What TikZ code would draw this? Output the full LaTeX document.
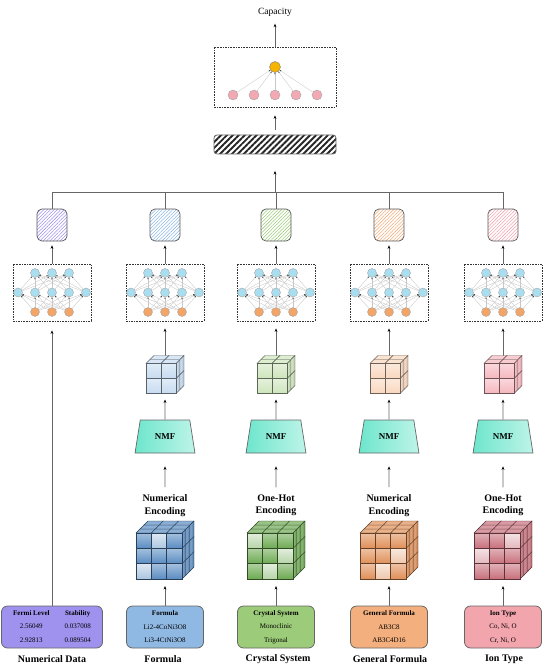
\documentclass[tikz,border=0pt]{standalone}
\usepackage{fontspec}
\setmainfont{Liberation Serif}
\usetikzlibrary{arrows.meta,shapes.geometric,patterns.meta,calc}

\definecolor{colA}{HTML}{9F92EF}
\definecolor{colB}{HTML}{8FB8E3}
\definecolor{colC}{HTML}{9CCB79}
\definecolor{colD}{HTML}{F3AF7E}
\definecolor{colE}{HTML}{F3A5AE}
\definecolor{cubeB}{HTML}{5A8CC2}
\definecolor{cubeC}{HTML}{6DAA52}
\definecolor{cubeD}{HTML}{E08F58}
\definecolor{cubeE}{HTML}{C8707C}
\definecolor{nnBlue}{HTML}{A9DEF0}
\definecolor{nnOrange}{HTML}{F2A566}
\definecolor{nmfTeal}{HTML}{6EE6CC}
\definecolor{capGold}{HTML}{F5B400}
\definecolor{capPink}{HTML}{F2A9B3}

% cube: #1 front bottom-left, #2 cells, #3 front size, #4 depth, #5 colour, #6 light cells
\newcommand{\drawcube}[6]{%
  \begin{scope}[shift={(#1)}]
    \pgfmathsetmacro{\cubecell}{#3/#2}
    \pgfmathsetmacro{\cubedep}{#4/#2}
    \pgfmathtruncatemacro{\cubelast}{#2-1}
    \foreach \i in {0,...,\cubelast}
      \foreach \j in {0,...,\cubelast} {
        \draw[cubeline=#5, top color=#5!55!white, bottom color=#5]
          ({\i*\cubecell},{-\j*\cubecell}) rectangle ++(\cubecell,-\cubecell);
        \draw[cubeline=#5, fill=#5!70!white]
          ({\i*\cubecell+\j*\cubedep},{-#3-\j*\cubedep}) -- ++(\cubecell,0)
          -- ++(\cubedep,-\cubedep) -- ++(-\cubecell,0) -- cycle;
        \draw[cubeline=#5, left color=#5!75!white, right color=#5!85!black]
          ({#3+\i*\cubedep},{-\j*\cubecell-\i*\cubedep}) -- ++(\cubedep,-\cubedep)
          -- ++(0,-\cubecell) -- ++(-\cubedep,\cubedep) -- cycle;
      }
    \if\relax\detokenize{#6}\relax\else
      \foreach \i/\j in {#6}
        \draw[cubeline=#5, top color=#5!20!white, bottom color=#5!50!white]
          ({\i*\cubecell},{-\j*\cubecell}) rectangle ++(\cubecell,-\cubecell);
    \fi
  \end{scope}}

\begin{document}
\begin{tikzpicture}[x=1pt,y=-1pt,
    arr/.style={draw=black!60, line width=0.7pt, -{Stealth[length=3.5pt,width=2.8pt,color=black]}},
    wire/.style={draw=black!60, line width=0.7pt},
    link/.style={draw=black!22, line width=0.35pt, -{Stealth[length=1.6pt,width=1.4pt,color=black!80]}},
    dashbox/.style={draw=black!80, line width=0.8pt, dash pattern=on 1.6pt off 1pt},
    hatch/.style={draw=black!65, line width=0.7pt, rounded corners=5, minimum width=30, minimum height=32,
      pattern={Lines[angle=45,distance=2.4pt,line width=0.55pt]}, pattern color=#1},
    nnb/.style={circle, draw=black!35, fill=nnBlue, minimum size=9, inner sep=0, line width=0.4pt},
    nno/.style={nnb, fill=nnOrange},
    cubebox/.style={inner sep=0, outer sep=0, minimum size=#1},
    nmf/.style={trapezium, trapezium angle=70, trapezium stretches=true, minimum width=60, minimum height=33,
      inner sep=0, draw=black!60, line width=0.7pt, left color=nmfTeal, right color=nmfTeal!45!white,
      font=\fontsize{9}{10}\selectfont\bfseries},
    enc/.style={align=center, font=\fontsize{10}{12.5}\selectfont\bfseries},
    inbox/.style={draw=black!60, line width=0.8pt, rounded corners=6, fill=#1, minimum width=77, minimum height=42,
      inner sep=0, align=center, font=\fontsize{7}{8.5}\selectfont},
    title/.style={font=\fontsize{10}{12}\selectfont\bfseries},
    cubeline/.style={draw=#1!45!black, line width=0.4pt}
  ]
  \useasboundingbox (0,0) rectangle (550,671);

  % output layer
  \node[font=\fontsize{9.5}{11}\selectfont] (capacity) at (275,12) {Capacity};
  \node[dashbox, minimum width=122, minimum height=60] (outbox) at (275,77) {};
  \node[circle, draw=black!50, fill=capGold, minimum size=11, inner sep=0] (cap) at (275,67) {};
  \foreach \k in {1,...,5} {
    \node[circle, draw=black!35, fill=capPink, minimum size=10, inner sep=0] (p\k) at ({275+(\k-3)*21},95) {};
    \draw[link] (p\k) -- (cap);
  }
  \draw[arr, shorten >=4] (outbox.north) -- (capacity.south);

  % fusion
  \node[draw=black!60, line width=0.8pt, rounded corners=3, minimum width=122, minimum height=19,
    pattern={Lines[angle=45,distance=4.2pt,line width=1.9pt]}, pattern color=black!85] (fuse) at (275,144.5) {};
  \draw[arr, shorten <=4, shorten >=8] (fuse.north) -- (outbox.south);
  \coordinate (hub) at (275,192);
  \draw[arr, shorten >=16] (hub) -- (fuse.south);

  % inputs
  \node[inbox=colA, minimum width=101] (ina) at (52,627) {\begin{tabular}{@{}c@{\hspace{15pt}}c@{}}
    \textbf{Fermi Level} & \textbf{Stability}\\[5pt] 2.56049 & 0.037008\\[5pt] 2.92813 & 0.089504\end{tabular}};
  \node[inbox=colB] (inb) at (165,627) {\textbf{Formula}\\[5pt] Li2-4CoNi3O8\\[5pt] Li3-4CtNi3O8};
  \node[inbox=colC] (inc) at (276,627) {\textbf{Crystal System}\\[5pt] Monoclinic\\[5pt] Trigonal};
  \node[inbox=colD] (ind) at (389,627) {\textbf{General Formula}\\[5pt] AB3C8\\[5pt] AB3C4D16};
  \node[inbox=colE] (ine) at (503,627) {\textbf{Ion Type}\\[5pt] Co, Ni, O\\[5pt] Cr, Ni, O};
  \node[title] (ta) at (52,659) {Numerical Data};
  \node[title] (tb) at (163,659) {Formula};
  \node[title] (tc) at (278,659) {Crystal System};
  \node[title] (td) at (390,659) {General Formula};
  \node[title] (te) at (504,659) {Ion Type};

  % branches
  \foreach \id/\xx/\col in {a/52/colA, b/165/colB, c/276/colC, d/389/colD, e/503/colE} {
    \node[hatch=\col] (h\id) at (\xx,225) {};
    \draw[wire] (h\id.north) -- (h\id.north |- hub);
    \node[dashbox, minimum width=78, minimum height=57] (nn\id) at (\xx,292.5) {};
    \foreach \k in {1,2,3} {
      \node[nnb] (t\id\k) at ($(nn\id)+({(\k-2)*17},-19.5)$) {};
      \node[nno] (o\id\k) at ($(nn\id)+({(\k-2)*17},19.5)$) {};
    }
    \foreach \m in {1,...,5}
      \node[nnb] (m\id\m) at ($(nn\id)+({(\m-3)*17},0)$) {};
    \foreach \k in {1,2,3}
      \foreach \m in {1,...,5} {
        \draw[link] (m\id\m) -- (t\id\k);
        \draw[link] (o\id\k) -- (m\id\m);
      }
    \draw[arr, shorten >=4] (nn\id.north) -- (h\id.south);
  }
  \draw[wire] (ha.north |- hub) -- (he.north |- hub);
  \draw[arr, shorten >=9] (ina.north) -- (nna.south);

  % encodings
  \foreach \id/\xx/\enc in {b/165/Numerical, c/276/One-Hot, d/389/Numerical, e/503/One-Hot} {
    \node[cubebox=38] (sc\id) at (\xx,374.5) {};
    \node[nmf] (nmf\id) at (\xx,436.5) {NMF};
    \node[enc] (enc\id) at (\xx,505.5) {\enc\\Encoding};
    \node[cubebox=58] (bc\id) at (\xx,550) {};
    \draw[arr, shorten >=7] (sc\id.north) -- (nn\id.south);
    \draw[arr, shorten >=6] (nmf\id.north) -- (sc\id.south);
    \draw[arr, shorten <=4, shorten >=13] (enc\id.north) -- (nmf\id.south);
    \draw[arr, shorten >=7] (in\id.north) -- (bc\id.south);
  }
  \drawcube{scb.south west}{2}{30}{8}{colB!50!white}{}
  \drawcube{scc.south west}{2}{30}{8}{colC!50!white}{}
  \drawcube{scd.south west}{2}{30}{8}{colD!50!white}{}
  \drawcube{sce.south west}{2}{30}{8}{colE!80!white}{}
  \drawcube{bcb.south west}{3}{46}{12}{cubeB}{1/2,0/0}
  \drawcube{bcc.south west}{3}{46}{12}{cubeC}{0/2,2/1,1/0}
  \drawcube{bcd.south west}{3}{46}{12}{cubeD}{2/1,1/0}
  \drawcube{bce.south west}{3}{46}{12}{cubeE}{2/2,0/1}
\end{tikzpicture}
\end{document}
